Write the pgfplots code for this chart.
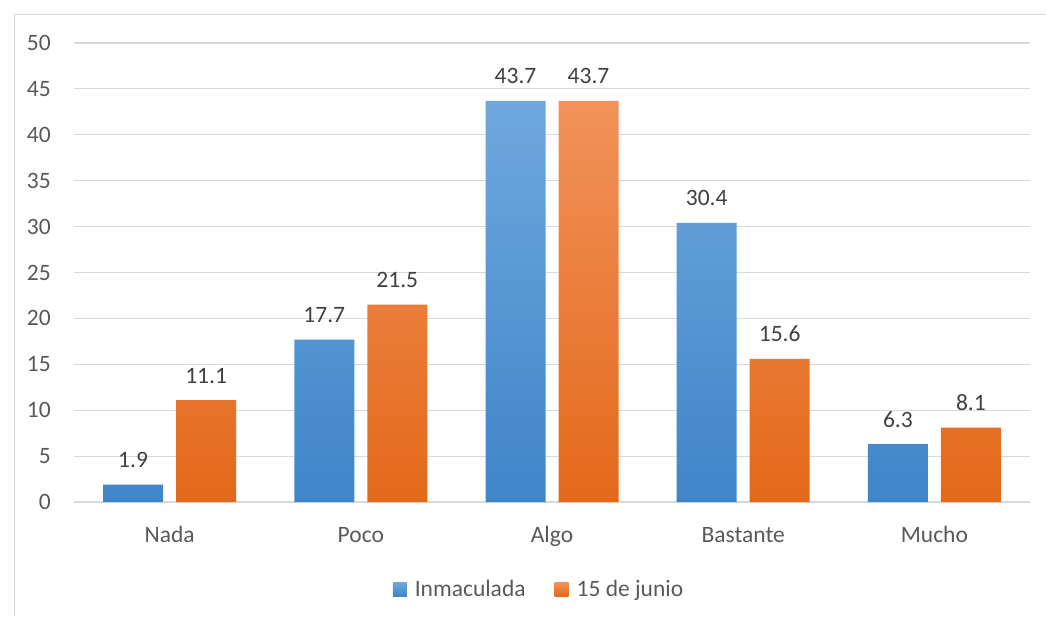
\documentclass[border=0pt]{standalone}
\usepackage{pgfplots}
\pgfplotsset{compat=1.18}
\usepackage{fontspec}
\setmainfont{Carlito}
\definecolor{gridgray}{HTML}{D9D9D9}
\definecolor{txtgray}{HTML}{595959}
\definecolor{valgray}{HTML}{404040}
\definecolor{blueTop}{HTML}{6FA8DE}
\definecolor{blueBot}{HTML}{3F85C8}
\definecolor{orTop}{HTML}{F2925A}
\definecolor{orBot}{HTML}{E3691A}

\begin{document}
\begin{tikzpicture}[x=1pt,y=1pt]
\useasboundingbox (0,0) rectangle (1046,616);
\draw[gridgray, line width=1pt] (14.5,0) -- (14.5,601.5) -- (1046,601.5);
\begin{axis}[
    at={(74pt,114pt)}, anchor=south west,
    scale only axis,
    width=956pt, height=459pt,
    ymin=0, ymax=50,
    xmin=-0.5, xmax=4.5,
    ytick={0,5,...,50},
    xtick=data,
    xticklabels={Nada,Poco,Algo,Bastante,Mucho},
    ybar=13pt, bar width=60pt,
    axis line style={draw=none},
    ymajorgrids,
    grid style={gridgray, line width=1.2pt},
    major tick length=0pt,
    font=\fontsize{23.5}{28}\selectfont,
    /pgf/number format/assume math mode=true,
    tick label style={txtgray},
    yticklabel style={anchor=east, inner sep=0pt, xshift=-23pt},
    xticklabel style={anchor=base, inner sep=0pt, yshift=-40pt},
    nodes near coords={\pgfmathprintnumber[fixed,precision=1,fixed zerofill]{\pgfplotspointmeta}},
    every node near coord/.append style={valgray, anchor=base, inner sep=0pt, yshift=17pt},
    legend style={at={(0.4864,-0.19)}, anchor=center, draw=none, fill=none,
        legend columns=2, /tikz/every even column/.append style={column sep=27pt},
        text=txtgray, inner sep=0pt,
        font=\fontsize{23.5}{28}\selectfont},
    legend cell align=left,
]
\addplot[draw=none, top color=blueTop, bottom color=blueBot,
    legend image code/.code={\path[top color=blueTop, bottom color=blueBot] (0pt,-7pt) rectangle (14pt,7pt); \path (20pt,0pt);}]
    coordinates {(0,1.9) (1,17.7) (2,43.7) (3,30.4) (4,6.3)};
\addplot[draw=none, top color=orTop, bottom color=orBot,
    legend image code/.code={\path[top color=orTop, bottom color=orBot] (0pt,-7pt) rectangle (14pt,7pt); \path (20pt,0pt);}]
    coordinates {(0,11.1) (1,21.5) (2,43.7) (3,15.6) (4,8.1)};
\legend{Inmaculada,15 de junio}
\end{axis}
\end{tikzpicture}
\end{document}
